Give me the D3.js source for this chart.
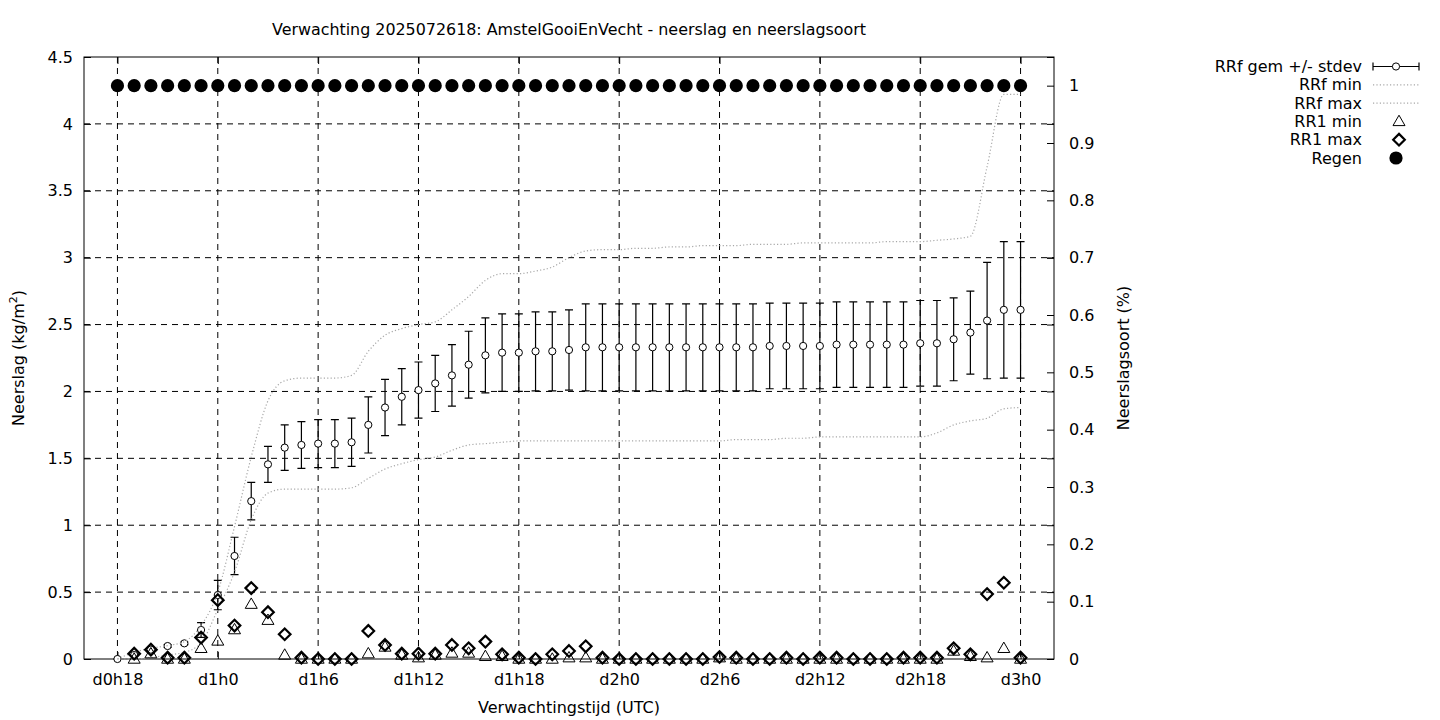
<!DOCTYPE html>
<html><head><meta charset="utf-8">
<script src="https://cdn.jsdelivr.net/npm/d3@7"></script>
<style>
body{margin:0;background:#fff}
svg text{font-family:"DejaVu Sans",sans-serif;fill:#000}
</style>
</head><body>
<svg id="c" width="1440" height="720"></svg>
<script>
// ---------- data ----------
const hours = [18,19,20,21,22,23,24,25,26,27,28,29,30,31,32,33,34,35,36,37,38,39,40,41,42,43,44,45,46,47,48,49,50,51,52,53,54,55,56,57,58,59,60,61,62,63,64,65,66,67,68,69,70,71,72];
const rrfMean = [0,0.03,0.07,0.097,0.117,0.217,0.478,0.77,1.18,1.455,1.58,1.60,1.61,1.61,1.62,1.75,1.88,1.96,2.01,2.06,2.12,2.20,2.27,2.29,2.29,2.30,2.30,2.31,2.33,2.33,2.33,2.33,2.33,2.33,2.33,2.33,2.33,2.33,2.33,2.34,2.34,2.34,2.34,2.35,2.35,2.35,2.35,2.35,2.36,2.36,2.39,2.44,2.53,2.61,2.61];
const rrfStd = [0,0.01,0.01,0.01,0.01,0.055,0.11,0.14,0.14,0.135,0.17,0.175,0.18,0.18,0.18,0.21,0.21,0.21,0.21,0.21,0.23,0.25,0.28,0.29,0.29,0.295,0.295,0.30,0.325,0.325,0.325,0.325,0.325,0.325,0.325,0.325,0.325,0.325,0.325,0.32,0.32,0.32,0.32,0.32,0.32,0.32,0.32,0.32,0.32,0.32,0.31,0.31,0.435,0.51,0.51];
const rrfMin = [0,0,0.01,0.03,0.05,0.12,0.37,0.65,1.04,1.24,1.27,1.27,1.27,1.27,1.28,1.35,1.42,1.46,1.49,1.51,1.56,1.60,1.61,1.62,1.63,1.63,1.63,1.63,1.63,1.63,1.63,1.63,1.63,1.63,1.63,1.63,1.63,1.64,1.64,1.64,1.65,1.65,1.66,1.66,1.66,1.66,1.66,1.66,1.66,1.69,1.75,1.78,1.80,1.87,1.88];
const rrfMax = [0,0.05,0.08,0.10,0.13,0.25,0.50,0.99,1.51,1.93,2.08,2.10,2.10,2.10,2.12,2.30,2.42,2.47,2.50,2.52,2.61,2.71,2.83,2.88,2.88,2.90,2.93,3.00,3.05,3.06,3.06,3.07,3.07,3.08,3.08,3.09,3.09,3.09,3.10,3.10,3.10,3.11,3.11,3.11,3.11,3.11,3.12,3.12,3.12,3.13,3.14,3.16,3.68,4.22,4.22];
const rr1Min = [null,0,0.04,0,0,0.08,0.135,0.22,0.41,0.29,0.03,0,0,0,0,0.04,0.09,0.03,0.01,0.03,0.045,0.045,0.02,0.02,0,0,0,0.01,0.01,0,0,0,0,0,0,0,0.01,0,0,0,0,0,0,0,0,0,0,0,0,0,0.06,0.02,0.01,0.08,0];
const rr1Max = [null,0.04,0.07,0.01,0.01,0.16,0.44,0.25,0.53,0.35,0.185,0.01,0,0,0,0.21,0.105,0.04,0.04,0.04,0.105,0.08,0.13,0.035,0.01,0,0.035,0.06,0.095,0.01,0,0,0,0,0,0,0.015,0.01,0,0,0.01,0,0.01,0.01,0,0,0,0.01,0.01,0.01,0.08,0.035,0.485,0.57,0.01];
const regen = [1,1,1,1,1,1,1,1,1,1,1,1,1,1,1,1,1,1,1,1,1,1,1,1,1,1,1,1,1,1,1,1,1,1,1,1,1,1,1,1,1,1,1,1,1,1,1,1,1,1,1,1,1,1,1];

const xTickHours = [18,24,30,36,42,48,54,60,66,72];
const xTickLabels = ["d0h18","d1h0","d1h6","d1h12","d1h18","d2h0","d2h6","d2h12","d2h18","d3h0"];
const yLeftTicks = [0,0.5,1,1.5,2,2.5,3,3.5,4,4.5];
const yRightTicks = [0,0.1,0.2,0.3,0.4,0.5,0.6,0.7,0.8,0.9,1];
const legendLabels = ["RRf gem +/- stdev","RRf min","RRf max","RR1 min","RR1 max","Regen"];
const titleText = "Verwachting 2025072618: AmstelGooiEnVecht - neerslag en neerslagsoort";

// ---------- layout ----------
const L = 84, R = 1054, T = 57, B = 659;
const svg = d3.select("#c");
const x = d3.scaleLinear().domain([16, 74]).range([L, R]);
const yL = d3.scaleLinear().domain([0, 4.5]).range([B, T]);
const yR = d3.scaleLinear().domain([0, 1.05]).range([B, T]);

const FS = 16;
const styleAxis = g => {
  g.select(".domain").remove();
  g.attr("font-size", FS).attr("font-family", "DejaVu Sans");
  g.selectAll(".tick line").attr("stroke", "#000").attr("stroke-width", 1);
  g.selectAll(".tick text").attr("fill", "#000");
};

// grid
svg.append("g").selectAll("line").data(yLeftTicks.slice(1, -1)).join("line")
  .attr("x1", L).attr("x2", R).attr("y1", d => yL(d)).attr("y2", d => yL(d))
  .attr("stroke", "#000").attr("stroke-width", 1).attr("stroke-dasharray", "6,5");
svg.append("g").selectAll("line").data(xTickHours).join("line")
  .attr("x1", d => x(d)).attr("x2", d => x(d)).attr("y1", T).attr("y2", B)
  .attr("stroke", "#000").attr("stroke-width", 1).attr("stroke-dasharray", "6,5");

// axes
svg.append("g").attr("transform", `translate(0,${B})`)
  .call(d3.axisBottom(x).tickValues(xTickHours).tickFormat((d, i) => xTickLabels[i]).tickSizeInner(-7).tickSizeOuter(0).tickPadding(15))
  .call(styleAxis);
svg.append("g").attr("transform", `translate(0,${T})`)
  .call(d3.axisTop(x).tickValues(xTickHours).tickFormat("").tickSizeInner(-7).tickSizeOuter(0))
  .call(styleAxis);
svg.append("g").attr("transform", `translate(${L},0)`)
  .call(d3.axisLeft(yL).tickValues(yLeftTicks).tickFormat(d3.format("")).tickSizeInner(-7).tickSizeOuter(0).tickPadding(11))
  .call(styleAxis);
svg.append("g").attr("transform", `translate(${R},0)`)
  .call(d3.axisRight(yL).tickValues(yLeftTicks).tickFormat("").tickSizeInner(-7).tickSizeOuter(0))
  .call(styleAxis);
svg.append("g").attr("transform", `translate(${R},0)`)
  .call(d3.axisRight(yR).tickValues(yRightTicks).tickFormat(d3.format("")).tickSizeInner(-7).tickSizeOuter(0).tickPadding(15))
  .call(styleAxis);

// border
svg.append("rect").attr("x", L).attr("y", T).attr("width", R - L).attr("height", B - T)
  .attr("fill", "none").attr("stroke", "#000").attr("stroke-width", 1);

// titles
svg.append("text").attr("x", (L + R) / 2).attr("y", 35).attr("text-anchor", "middle")
  .attr("font-size", 16).attr("textLength", 594).attr("lengthAdjust", "spacingAndGlyphs").text(titleText);
svg.append("text").attr("x", (L + R) / 2).attr("y", 713).attr("text-anchor", "middle")
  .attr("font-size", FS).text("Verwachtingstijd (UTC)");
const yl = svg.append("text").attr("transform", `translate(24,${(T + B) / 2}) rotate(-90)`)
  .attr("text-anchor", "middle").attr("font-size", FS);
yl.append("tspan").text("Neerslag (kg/m");
yl.append("tspan").attr("font-size", 11).attr("dy", -7).text("2");
yl.append("tspan").attr("dy", 7).text(")");
svg.append("text").attr("transform", `translate(1129,${(T + B) / 2}) rotate(-90)`)
  .attr("text-anchor", "middle").attr("font-size", FS).text("Neerslagsoort (%)");

// ---------- data marks ----------
const rows = hours.map((h, i) => ({h, mean: rrfMean[i], sd: rrfStd[i], mn: rrfMin[i], mx: rrfMax[i], r1n: rr1Min[i], r1x: rr1Max[i], rg: regen[i]}));
const plot = svg.append("g");
const CAP = 4;

// error bars
const eb = plot.append("g").attr("stroke", "#000").attr("stroke-width", 1.2);
eb.selectAll("path").data(rows).join("path")
  .attr("fill", "none")
  .attr("d", d => {
    const cx = x(d.h), y1 = yL(d.mean + d.sd), y0 = yL(d.mean - d.sd);
    return `M${cx},${y0}V${y1}M${cx - CAP},${y1}H${cx + CAP}M${cx - CAP},${y0}H${cx + CAP}`;
  });
plot.append("g").selectAll("circle").data(rows).join("circle")
  .attr("cx", d => x(d.h)).attr("cy", d => yL(d.mean)).attr("r", 3.6)
  .attr("fill", "#fff").attr("stroke", "#000").attr("stroke-width", 1);

// min / max lines
const lineGen = key => d3.line().x(d => x(d.h)).y(d => yL(d[key])).curve(d3.curveMonotoneX);
["mn", "mx"].forEach(k => {
  plot.append("path").datum(rows).attr("d", lineGen(k))
    .attr("fill", "none").attr("stroke", "#a8a8a8").attr("stroke-width", 1.2).attr("stroke-dasharray", "1.2,2.2");
});

// triangles & diamonds
const triPath = (cx, cy, s) => `M${cx},${cy - s * 0.62}L${cx + s * 0.6},${cy + s * 0.42}L${cx - s * 0.6},${cy + s * 0.42}Z`;
const diaPath = (cx, cy, s) => `M${cx},${cy - s}L${cx + s},${cy}L${cx},${cy + s}L${cx - s},${cy}Z`;
plot.append("g").selectAll("path").data(rows.filter(d => d.r1n !== null)).join("path")
  .attr("d", d => triPath(x(d.h), yL(d.r1n), 10))
  .attr("fill", "none").attr("stroke", "#000").attr("stroke-width", 1);
plot.append("g").selectAll("path").data(rows.filter(d => d.r1x !== null)).join("path")
  .attr("d", d => diaPath(x(d.h), yL(d.r1x), 5.8))
  .attr("fill", "none").attr("stroke", "#000").attr("stroke-width", 2.2).attr("stroke-linejoin", "miter");
// regen (right axis)
plot.append("g").selectAll("circle").data(rows).join("circle")
  .attr("cx", d => x(d.h)).attr("cy", d => yR(d.rg)).attr("r", 6.6).attr("fill", "#000");

// ---------- legend ----------
const lg = svg.append("g");
const LX = 1362, SX0 = 1373, SX1 = 1419, SC = 1396, LY0 = 66.5, LDY = 18.3;
legendLabels.forEach((t, i) => {
  lg.append("text").attr("x", LX).attr("y", LY0 + i * LDY).attr("dy", "0.35em")
    .attr("text-anchor", "end").attr("font-size", FS).text(t);
});
const ly = i => LY0 + i * LDY;
lg.append("path").attr("d", `M${SX0},${ly(0)}H${SX1}M${SX0},${ly(0) - 4}V${ly(0) + 4}M${SX1},${ly(0) - 4}V${ly(0) + 4}`)
  .attr("stroke", "#000").attr("stroke-width", 1.2).attr("fill", "none");
lg.append("circle").attr("cx", SC).attr("cy", ly(0)).attr("r", 3.6).attr("fill", "#fff").attr("stroke", "#000");
[1, 2].forEach(i => lg.append("path").attr("d", `M${SX0},${ly(i)}H${SX1}`)
  .attr("stroke", "#a8a8a8").attr("stroke-width", 1.2).attr("stroke-dasharray", "1.2,2.2"));
lg.append("path").attr("d", triPath(SC + 3, ly(3), 10)).attr("fill", "none").attr("stroke", "#000");
lg.append("path").attr("d", diaPath(SC + 3, ly(4), 5.8)).attr("fill", "none").attr("stroke", "#000").attr("stroke-width", 2.2);
lg.append("circle").attr("cx", SC).attr("cy", ly(5)).attr("r", 6.6).attr("fill", "#000");
</script>
</body></html>
